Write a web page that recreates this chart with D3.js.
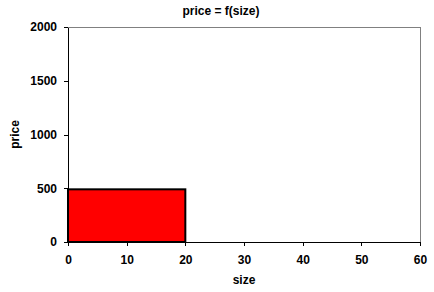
<!DOCTYPE html>
<html>
<head>
<meta charset="utf-8">
<script src="https://cdn.jsdelivr.net/npm/d3@7"></script>
<style>
  body { margin: 0; background: #fff; }
  svg { display: block; font-family: Arial, "Liberation Sans", sans-serif; }
</style>
</head>
<body>
<div id="chart"></div>
<script>
const chartTitle = "price = f(size)";
const xLabel = "size";
const yLabel = "price";
const xTicks = [0, 10, 20, 30, 40, 50, 60];
const yTicks = [0, 500, 1000, 1500, 2000];
// bars: [start, end] on size axis, with price height
const barStarts = [0];
const barEnds = [20];
const barValues = [490];

const width = 434, height = 292;
const margin = { top: 27, right: 14, bottom: 50, left: 68 };

const svg = d3.select("#chart").append("svg")
  .attr("width", width)
  .attr("height", height);

const x = d3.scaleLinear().domain([0, 60]).range([margin.left, width - margin.right]);
const y = d3.scaleLinear().domain([0, 2000]).range([height - margin.bottom, margin.top]);

// frame (top and right in gray)
svg.append("path")
  .attr("d", `M${x(0)},${y(2000)}H${x(60)}V${y(0)}`)
  .attr("fill", "none")
  .attr("stroke", "#808080")
  .attr("stroke-width", 1)
  .attr("shape-rendering", "crispEdges");

// bars
svg.append("g").selectAll("rect")
  .data(barValues)
  .join("rect")
  .attr("x", (d, i) => x(barStarts[i]))
  .attr("y", (d) => y(d))
  .attr("width", (d, i) => x(barEnds[i]) - x(barStarts[i]))
  .attr("height", (d) => y(0) - y(d))
  .attr("fill", "#ff0000")
  .attr("stroke", "#000")
  .attr("stroke-width", 2);

const xAxis = svg.append("g")
  .attr("transform", `translate(0,${y(0)})`)
  .call(d3.axisBottom(x).tickValues(xTicks).tickFormat(d3.format("d"))
    .tickSize(4).tickSizeOuter(0).tickPadding(9));

const yAxis = svg.append("g")
  .attr("transform", `translate(${x(0)},0)`)
  .call(d3.axisLeft(y).tickValues(yTicks).tickFormat(d3.format("d"))
    .tickSize(4).tickSizeOuter(0).tickPadding(7));

[xAxis, yAxis].forEach((a) => {
  a.selectAll("path, line").attr("stroke", "#000").attr("shape-rendering", "crispEdges");
  a.selectAll("text")
    .attr("fill", "#000")
    .style("font-size", "12px")
    .style("font-weight", "bold")
    .style("font-family", "Arial, 'Liberation Sans', sans-serif");
});

svg.append("text")
  .attr("x", 221)
  .attr("y", 15)
  .attr("text-anchor", "middle")
  .style("font-size", "12px")
  .style("font-weight", "bold")
  .text(chartTitle);

svg.append("text")
  .attr("x", (x(0) + x(60)) / 2)
  .attr("y", 284)
  .attr("text-anchor", "middle")
  .style("font-size", "12px")
  .style("font-weight", "bold")
  .text(xLabel);

svg.append("text")
  .attr("transform", `translate(19,${(y(0) + y(2000)) / 2}) rotate(-90)`)
  .attr("text-anchor", "middle")
  .style("font-size", "12px")
  .style("font-weight", "bold")
  .text(yLabel);
</script>
</body>
</html>
